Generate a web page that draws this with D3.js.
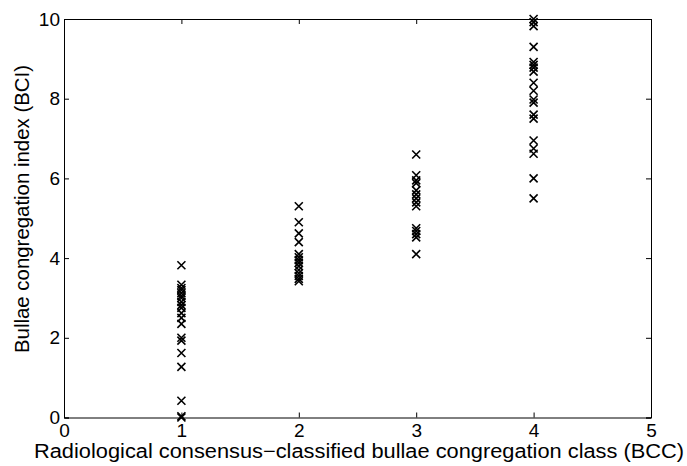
<!DOCTYPE html>
<html>
<head>
<meta charset="utf-8">
<script src="https://d3js.org/d3.v7.min.js"></script>
<style>
  body { margin: 0; background: #fff; }
  text { font-family: "Liberation Sans", Arial, sans-serif; fill: #000; }
</style>
</head>
<body>
<div id="chart"></div>
<script>
// BCC classes and BCI values
var class1 = [3.82, 3.33, 3.25, 3.2, 3.12, 3.05, 3.0, 2.9, 2.82, 2.75, 2.62, 2.5, 2.35, 2.0, 1.93, 1.62, 1.27, 0.42, 0.03, 0.0];
var class2 = [5.3, 4.9, 4.62, 4.4, 4.1, 4.02, 3.95, 3.88, 3.8, 3.7, 3.62, 3.55, 3.48, 3.42];
var class3 = [6.6, 6.08, 5.95, 5.88, 5.7, 5.6, 5.5, 5.4, 5.3, 4.75, 4.68, 4.6, 4.52, 4.1];
var class4 = [10.0, 9.92, 9.82, 9.3, 8.92, 8.85, 8.78, 8.68, 8.4, 8.2, 7.98, 7.9, 7.6, 7.5, 6.95, 6.75, 6.62, 6.0, 5.5];
var classes = [1, 2, 3, 4];
var xTicks = [0, 1, 2, 3, 4, 5];
var yTicks = [0, 2, 4, 6, 8, 10];

var width = 687, height = 466;
var margin = {left: 64, right: 36, top: 19, bottom: 48.5};

var svg = d3.select("#chart").append("svg")
  .attr("width", width).attr("height", height);

var x = d3.scaleLinear().domain([0, 5]).range([margin.left, width - margin.right]);
var y = d3.scaleLinear().domain([0, 10]).range([height - margin.bottom, margin.top]);

var points = [];
[class1, class2, class3, class4].forEach(function(vals, i) {
  vals.forEach(function(v) { points.push({c: classes[i], v: v}); });
});

// frame and inward ticks (MATLAB style)
var tl = 5;
var axB = svg.append("g").attr("transform", "translate(0," + y(0) + ")")
  .call(d3.axisBottom(x).tickValues(xTicks).tickSize(-tl).tickPadding(6).tickFormat(d3.format("d")));
var axT = svg.append("g").attr("transform", "translate(0," + y(10) + ")")
  .call(d3.axisTop(x).tickValues(xTicks).tickSize(-tl).tickFormat(""));
var axL = svg.append("g").attr("transform", "translate(" + x(0) + ",0)")
  .call(d3.axisLeft(y).tickValues(yTicks).tickSize(-tl).tickPadding(4).tickFormat(d3.format("d")));
var axR = svg.append("g").attr("transform", "translate(" + x(5) + ",0)")
  .call(d3.axisRight(y).tickValues(yTicks).tickSize(-tl).tickFormat(""));

[axB, axT, axL, axR].forEach(function(a) {
  a.select(".domain").attr("stroke", "#000").attr("stroke-width", 1);
  a.selectAll(".tick line").attr("stroke", "#000");
  a.selectAll("text").style("font-size", "19px").style("font-family", "Liberation Sans, Arial, sans-serif").attr("fill", "#000");
});

// x markers
var s = 4;
var marks = svg.append("g").attr("stroke", "#000").attr("stroke-width", 1.6).attr("fill", "none");
marks.selectAll("path").data(points).enter().append("path")
  .attr("d", function(d) {
    var cx = x(d.c), cy = y(d.v);
    return "M" + (cx - s) + "," + (cy - s) + "L" + (cx + s) + "," + (cy + s) +
           "M" + (cx - s) + "," + (cy + s) + "L" + (cx + s) + "," + (cy - s);
  });

// axis labels
svg.append("text")
  .attr("x", 359).attr("y", 458)
  .attr("text-anchor", "middle").style("font-size", "20px")
  .attr("textLength", 650).attr("lengthAdjust", "spacingAndGlyphs")
  .text("Radiological consensus\u2212classified bullae congregation class (BCC)");

svg.append("text")
  .attr("transform", "translate(29,209) rotate(-90)")
  .attr("text-anchor", "middle").style("font-size", "21px")
  .attr("textLength", 288).attr("lengthAdjust", "spacingAndGlyphs")
  .text("Bullae congregation index (BCI)");
</script>
</body>
</html>
